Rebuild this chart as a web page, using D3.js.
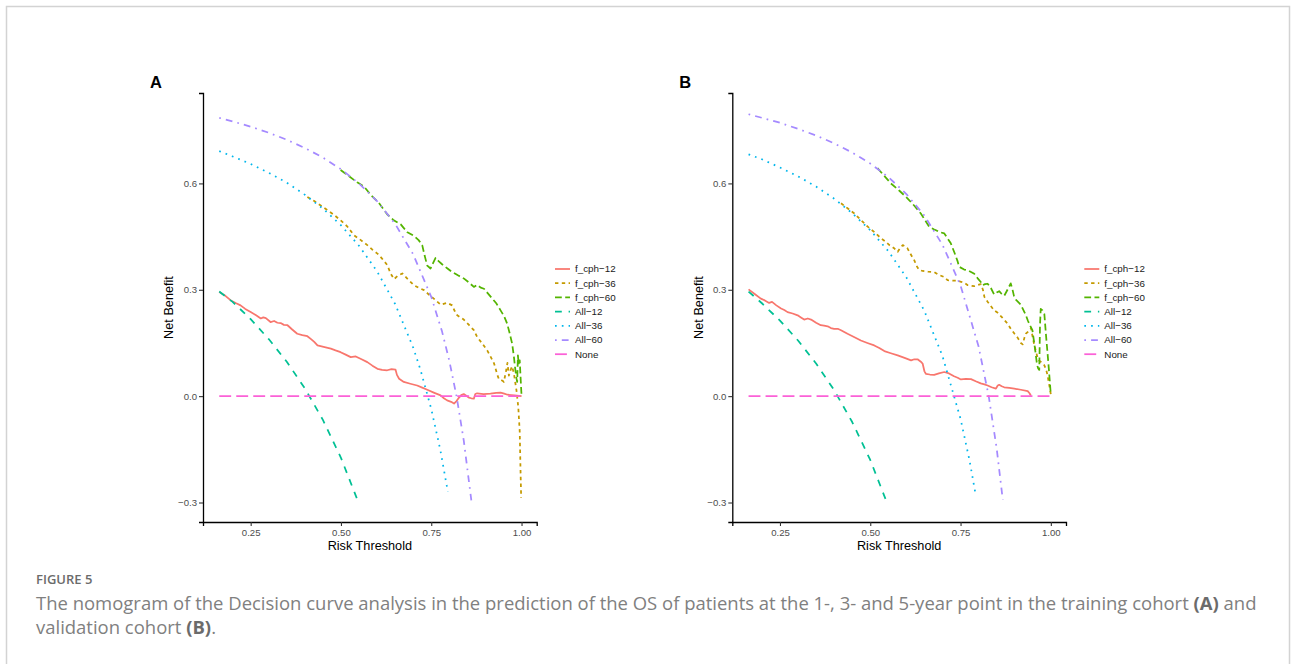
<!DOCTYPE html>
<html><head><meta charset="utf-8">
<script src="https://cdn.jsdelivr.net/npm/d3@7"></script>
<style>body{margin:0;background:#fff}svg{display:block}</style>
</head><body>
<svg id="c" width="1292" height="664"></svg>
<script>
// ---------------- DATA ----------------
const seriesNames = ["f_cph-12","f_cph-36","f_cph-60","All-12","All-36","All-60","None"];
const xTicks = [0.25, 0.50, 0.75, 1.00];
const yTicks = [-0.3, 0.0, 0.3, 0.6];
const xDataRange = [0.16, 1.0];
const yDataRange = [-0.3, 0.8];
const panelLabels = ["A", "B"];

// Panel A (training cohort): [risk threshold, net benefit]
const trainFcph12 = [[0.163,0.294],[0.18,0.283],[0.195,0.270],[0.21,0.262],[0.222,0.256],[0.235,0.246],[0.25,0.237],[0.265,0.228],[0.278,0.219],[0.285,0.222],[0.292,0.220],[0.305,0.209],[0.315,0.212],[0.324,0.207],[0.333,0.206],[0.342,0.201],[0.352,0.200],[0.365,0.188],[0.379,0.176],[0.393,0.172],[0.407,0.169],[0.418,0.160],[0.426,0.153],[0.435,0.143],[0.452,0.139],[0.472,0.134],[0.485,0.129],[0.499,0.124],[0.513,0.117],[0.527,0.110],[0.541,0.112],[0.557,0.104],[0.573,0.096],[0.587,0.086],[0.601,0.077],[0.614,0.074],[0.628,0.073],[0.640,0.076],[0.651,0.075],[0.655,0.060],[0.661,0.049],[0.674,0.040],[0.692,0.035],[0.711,0.030],[0.725,0.024],[0.739,0.018],[0.757,0.010],[0.776,0.002],[0.785,-0.006],[0.794,-0.012],[0.805,-0.016],[0.813,-0.021],[0.820,-0.014],[0.827,-0.004],[0.833,0.003],[0.840,0.006],[0.847,0.001],[0.854,-0.004],[0.861,-0.006],[0.868,-0.007],[0.872,0.006],[0.877,0.008],[0.895,0.006],[0.914,0.007],[0.930,0.009],[0.942,0.010],[0.952,0.007],[0.961,0.004],[0.980,0.002],[1.0,0.0]];
const trainFcph36 = [[0.407,0.562],[0.425,0.551],[0.445,0.537],[0.462,0.525],[0.48,0.512],[0.50,0.495],[0.518,0.478],[0.536,0.454],[0.555,0.440],[0.573,0.426],[0.587,0.413],[0.601,0.402],[0.612,0.390],[0.628,0.370],[0.638,0.345],[0.647,0.330],[0.658,0.340],[0.670,0.346],[0.685,0.330],[0.702,0.313],[0.716,0.305],[0.730,0.299],[0.745,0.285],[0.757,0.275],[0.776,0.258],[0.794,0.263],[0.808,0.256],[0.815,0.240],[0.822,0.228],[0.840,0.216],[0.855,0.200],[0.868,0.186],[0.877,0.167],[0.890,0.150],[0.905,0.129],[0.915,0.110],[0.924,0.092],[0.933,0.060],[0.938,0.046],[0.947,0.044],[0.951,0.040],[0.958,0.075],[0.961,0.094],[0.965,0.058],[0.970,0.075],[0.974,0.084],[0.979,0.063],[0.986,0.016],[0.991,-0.031],[0.995,-0.10],[0.997,-0.20],[0.999,-0.287]];
const trainFcph60 = [[0.499,0.638],[0.52,0.622],[0.545,0.603],[0.564,0.591],[0.585,0.565],[0.605,0.545],[0.628,0.513],[0.645,0.497],[0.665,0.485],[0.684,0.462],[0.702,0.452],[0.715,0.440],[0.725,0.426],[0.732,0.395],[0.739,0.368],[0.748,0.360],[0.755,0.375],[0.762,0.390],[0.771,0.380],[0.780,0.372],[0.795,0.360],[0.808,0.350],[0.825,0.340],[0.840,0.332],[0.855,0.320],[0.868,0.308],[0.877,0.314],[0.887,0.306],[0.896,0.303],[0.905,0.292],[0.915,0.280],[0.930,0.262],[0.942,0.242],[0.952,0.225],[0.960,0.205],[0.967,0.178],[0.974,0.148],[0.979,0.110],[0.983,0.073],[0.986,0.050],[0.988,0.040],[0.990,0.115],[0.992,0.090],[0.995,0.101],[0.997,0.060],[0.999,0.020],[1.0,0.002]];
const trainAll12 = [[0.163,0.295],[0.2,0.266],[0.25,0.217],[0.3,0.161],[0.35,0.097],[0.4,0.022],[0.45,-0.067],[0.5,-0.174],[0.55,-0.304]];
const trainAll36 = [[0.163,0.691],[0.2,0.676],[0.25,0.655],[0.3,0.630],[0.35,0.602],[0.4,0.568],[0.45,0.529],[0.5,0.482],[0.55,0.424],[0.6,0.352],[0.65,0.260],[0.7,0.137],[0.72,0.075],[0.75,-0.036],[0.775,-0.151],[0.796,-0.270]];
const trainAll60 = [[0.163,0.785],[0.2,0.775],[0.25,0.760],[0.3,0.743],[0.35,0.723],[0.4,0.700],[0.45,0.673],[0.5,0.640],[0.55,0.600],[0.6,0.550],[0.65,0.486],[0.7,0.400],[0.75,0.280],[0.78,0.182],[0.8,0.100],[0.82,0.0],[0.84,-0.125],[0.861,-0.294]];
const trainNone = [[0.163,0],[1.0,0]];

// Panel B (validation cohort)
const validFcph12 = [[0.163,0.301],[0.18,0.288],[0.197,0.275],[0.208,0.270],[0.220,0.263],[0.228,0.266],[0.240,0.256],[0.253,0.247],[0.262,0.243],[0.271,0.237],[0.285,0.233],[0.299,0.228],[0.308,0.222],[0.317,0.216],[0.327,0.219],[0.336,0.216],[0.350,0.207],[0.363,0.200],[0.372,0.199],[0.382,0.197],[0.391,0.192],[0.400,0.190],[0.410,0.190],[0.419,0.186],[0.428,0.181],[0.437,0.176],[0.455,0.167],[0.474,0.157],[0.492,0.150],[0.511,0.143],[0.525,0.136],[0.539,0.127],[0.557,0.121],[0.576,0.115],[0.595,0.108],[0.613,0.101],[0.622,0.104],[0.631,0.104],[0.640,0.097],[0.645,0.092],[0.650,0.070],[0.654,0.063],[0.665,0.061],[0.677,0.060],[0.690,0.064],[0.705,0.068],[0.718,0.064],[0.732,0.056],[0.742,0.052],[0.751,0.047],[0.765,0.049],[0.779,0.048],[0.792,0.042],[0.806,0.036],[0.816,0.033],[0.825,0.030],[0.836,0.025],[0.848,0.021],[0.853,0.030],[0.857,0.032],[0.864,0.028],[0.871,0.025],[0.885,0.023],[0.899,0.021],[0.917,0.018],[0.936,0.014],[0.941,0.008],[0.945,0.001]];
const validFcph36 = [[0.419,0.544],[0.437,0.530],[0.456,0.515],[0.474,0.497],[0.493,0.478],[0.512,0.462],[0.530,0.445],[0.542,0.436],[0.553,0.426],[0.565,0.418],[0.576,0.407],[0.583,0.418],[0.590,0.426],[0.597,0.422],[0.603,0.417],[0.612,0.400],[0.622,0.383],[0.628,0.368],[0.635,0.356],[0.645,0.353],[0.660,0.351],[0.677,0.350],[0.690,0.342],[0.705,0.336],[0.714,0.327],[0.728,0.326],[0.742,0.326],[0.752,0.322],[0.760,0.320],[0.770,0.313],[0.788,0.310],[0.806,0.316],[0.812,0.300],[0.816,0.280],[0.825,0.266],[0.843,0.242],[0.853,0.235],[0.865,0.222],[0.880,0.205],[0.889,0.190],[0.900,0.175],[0.908,0.165],[0.917,0.150],[0.922,0.146],[0.927,0.165],[0.931,0.176],[0.940,0.185],[0.945,0.192],[0.950,0.165],[0.954,0.145],[0.959,0.125],[0.963,0.110],[0.968,0.100],[0.975,0.095],[0.982,0.087],[0.987,0.075],[0.991,0.058],[0.995,0.035],[1.0,0.005]];
const validFcph60 = [[0.520,0.643],[0.540,0.620],[0.557,0.600],[0.580,0.580],[0.603,0.558],[0.622,0.537],[0.640,0.515],[0.652,0.496],[0.663,0.478],[0.677,0.470],[0.682,0.468],[0.691,0.463],[0.705,0.459],[0.714,0.445],[0.723,0.431],[0.733,0.405],[0.742,0.380],[0.746,0.365],[0.760,0.357],[0.770,0.355],[0.779,0.350],[0.788,0.345],[0.797,0.333],[0.806,0.322],[0.811,0.313],[0.818,0.316],[0.825,0.317],[0.834,0.305],[0.843,0.287],[0.850,0.292],[0.857,0.296],[0.864,0.288],[0.871,0.283],[0.880,0.300],[0.889,0.318],[0.894,0.300],[0.898,0.282],[0.903,0.272],[0.917,0.258],[0.931,0.228],[0.936,0.214],[0.942,0.200],[0.949,0.186],[0.954,0.150],[0.958,0.120],[0.961,0.095],[0.963,0.085],[0.965,0.078],[0.968,0.074],[0.970,0.200],[0.972,0.246],[0.977,0.242],[0.982,0.232],[0.986,0.180],[0.991,0.120],[0.995,0.070],[0.998,0.030],[1.0,0.004]];
const validAll12 = [[0.163,0.295],[0.2,0.262],[0.25,0.213],[0.3,0.157],[0.35,0.092],[0.4,0.017],[0.45,-0.073],[0.5,-0.180],[0.546,-0.300]];
const validAll36 = [[0.163,0.682],[0.2,0.668],[0.25,0.645],[0.3,0.620],[0.35,0.591],[0.4,0.557],[0.45,0.516],[0.5,0.468],[0.55,0.409],[0.6,0.335],[0.65,0.240],[0.7,0.113],[0.75,-0.064],[0.775,-0.182],[0.792,-0.279]];
const validAll60 = [[0.163,0.795],[0.2,0.785],[0.25,0.771],[0.3,0.754],[0.35,0.735],[0.4,0.713],[0.45,0.687],[0.5,0.656],[0.55,0.618],[0.6,0.570],[0.65,0.509],[0.7,0.427],[0.75,0.312],[0.8,0.140],[0.828,0.0],[0.85,-0.147],[0.867,-0.293]];
const validNone = [[0.163,0],[1.0,0]];

const panelSeries = [
  [trainFcph12, trainFcph36, trainFcph60, trainAll12, trainAll36, trainAll60, trainNone],
  [validFcph12, validFcph36, validFcph60, validAll12, validAll36, validAll60, validNone]
];

const figureTitle = "FIGURE 5";
const captionLine1 = [["The nomogram of the Decision curve analysis in the prediction of the OS of patients at the 1-, 3- and 5-year point in the training cohort ", false], ["(A)", true], [" and", false]];
const captionLine2 = [["validation cohort ", false], ["(B)", true], [".", false]];

// ---------------- STYLE ----------------
const seriesColors = ["#F8766D","#C49A00","#53B400","#00C094","#00B6EB","#A58AFF","#FB61D7"];
const seriesDash = [[], [2,2], [4,2], [4,4], [1,3], [1,3,4,3], [7,3]];
const dashUnit = 1.7;
const lineW = 1.75;
const sansFont = "'Liberation Sans', Arial, sans-serif";

// ---------------- DRAW ----------------
const svg = d3.select("#c");
svg.append("rect").attr("width",1292).attr("height",664).attr("fill","#fff");
// figure frame
svg.append("path").attr("d","M6.5,664 V6.5 H1289.5 V664").attr("fill","none").attr("stroke","#d3d3d3").attr("stroke-width",1.5);

function expand(r){ const d=(r[1]-r[0])*0.05; return [r[0]-d, r[1]+d]; }

const panelOffsets = [0, 529.3];

panelOffsets.forEach((ox, pi) => {
  const left = 203 + ox, right = 536.7 + ox, top = 93, bottom = 522;
  const x = d3.scaleLinear().domain(expand(xDataRange)).range([left, right]);
  const y = d3.scaleLinear().domain(expand(yDataRange)).range([bottom, top]);
  const g = svg.append("g");

  // panel label
  g.append("text").attr("x", 150 + ox).attr("y", 88).text(panelLabels[pi])
    .attr("font-family", sansFont).attr("font-weight","bold").attr("font-size", 16.5).attr("fill","#000");

  // lines
  const line = d3.line().x(d => x(d[0])).y(d => y(d[1]));
  panelSeries[pi].forEach((data, si) => {
    g.append("path").datum(data).attr("d", line)
      .attr("fill","none").attr("stroke", seriesColors[si]).attr("stroke-width", lineW)
      .attr("stroke-linejoin","round").attr("stroke-linecap","butt")
      .attr("stroke-dasharray", seriesDash[si].length ? seriesDash[si].map(v => v*dashUnit).join(",") : null);
  });

  // axes
  const xa = g.append("g").attr("transform", `translate(0,${bottom})`)
    .call(d3.axisBottom(x).tickValues(xTicks).tickFormat(d3.format(".2f")).tickSizeOuter(0).tickSize(4).tickPadding(3.5));
  const ya = g.append("g").attr("transform", `translate(${left},0)`)
    .call(d3.axisLeft(y).tickValues(yTicks).tickFormat(d3.format(".1f")).tickSizeOuter(0).tickSize(4).tickPadding(2));
  [xa, ya].forEach(a => {
    a.attr("font-size", 9.6).attr("font-family", sansFont);
    a.select(".domain").attr("stroke","#000").attr("stroke-width",1.3);
    a.selectAll(".tick line").attr("stroke","#333").attr("stroke-width",1.1);
    a.selectAll(".tick text").attr("font-family", sansFont).attr("font-size", 9.6).attr("fill","#4d4d4d");
  });

  // axis titles
  g.append("text").attr("x", (left+right)/2).attr("y", 550).attr("text-anchor","middle")
    .attr("font-family", sansFont).attr("font-size", 12.7).attr("fill","#000").text("Risk Threshold");
  g.append("text").attr("transform", `translate(${173.3+ox},${(top+bottom)/2}) rotate(-90)`).attr("text-anchor","middle")
    .attr("font-family", sansFont).attr("font-size", 12.7).attr("fill","#000").text("Net Benefit");

  // legend
  const lg = g.append("g").attr("transform", `translate(${555+ox},269)`);
  seriesNames.forEach((name, si) => {
    const yy = si * 14.2;
    lg.append("line").attr("x1",0).attr("x2",15).attr("y1",yy).attr("y2",yy)
      .attr("stroke", seriesColors[si]).attr("stroke-width", lineW)
      .attr("stroke-dasharray", seriesDash[si].length ? seriesDash[si].map(v => v*dashUnit).join(",") : null);
    lg.append("text").attr("x", 20).attr("y", yy).attr("dy","0.35em")
      .attr("font-family", sansFont).attr("font-size", 9.8).attr("fill","#1a1a1a")
      .text(name.replace("-", "\u2212"));
  });
});

// caption
const capFont = "'Open Sans', 'Noto Sans', sans-serif";
svg.append("text").attr("x", 36).attr("y", 584).attr("font-family", capFont).attr("font-size", 13)
  .attr("font-weight", 600).attr("fill", "#6b6b6b").text(figureTitle);

function captionLine(parts, yPos, size){
  const t = svg.append("text").attr("x", 36).attr("y", yPos).attr("font-family", capFont)
    .attr("font-size", size).attr("fill", "#808080");
  parts.forEach(p => t.append("tspan").text(p[0]).attr("font-weight", p[1] ? 700 : 400).attr("fill", p[1] ? "#6b6b6b" : "#808080"));
  return t;
}
let capSize = 16;
const l1 = captionLine(captionLine1, 610, capSize);
const w = l1.node().getComputedTextLength();
capSize = capSize * (1221 / w);
l1.attr("font-size", capSize);
captionLine(captionLine2, 634, capSize);
</script>
</body></html>
